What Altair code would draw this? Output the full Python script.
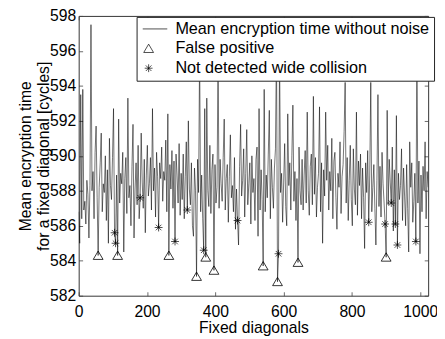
import altair as alt
import pandas as pd

FONT = "Liberation Sans"
L1 = "Mean encryption time without noise"
L2 = "False positive"
L3 = "Not detected wide collision"

# fixed diagonal index (every 3rd diagonal, 0..1023)
diag = list(range(0, 1024, 3))
# mean encryption time without noise [cycles]
mean_time = [
    586.8, 585.0, 593.5, 586.4, 593.8, 586.9, 587.4, 586.1, 588.6, 587.8, 585.3, 588.3, 597.5, 588.0, 589.1, 586.4, 590.2, 591.7, 587.6, 584.3,
    588.2, 589.6, 591.3, 586.8, 588.4, 587.9, 590.0, 586.3, 589.2, 585.0, 591.0, 588.3, 587.5, 589.9, 592.7, 585.6, 585.0, 588.9, 584.3, 592.1,
    587.3, 589.0, 588.4, 590.2, 584.5, 588.7, 589.9, 586.7, 593.3, 587.6, 588.3, 586.0, 589.4, 591.8, 585.3, 588.1, 589.6, 587.2, 590.6, 586.4,
    587.6, 591.3, 588.5, 587.0, 589.8, 585.6, 588.9, 590.6, 587.7, 588.4, 589.9, 586.9, 592.7, 588.0, 589.3, 586.5, 590.2, 588.8, 585.9, 589.6,
    588.7, 590.5, 587.4, 589.1, 588.6, 590.9, 586.8, 592.4, 584.3, 589.5, 588.1, 590.3, 587.0, 589.7, 585.1, 590.1, 588.9, 587.3, 590.7, 586.6,
    589.0, 587.5, 590.1, 586.4, 588.8, 590.8, 586.9, 592.0, 588.1, 587.2, 589.6, 586.0, 585.4, 589.3, 588.0, 583.1, 589.8, 587.9, 596.0, 586.8,
    588.9, 586.4, 584.6, 592.7, 584.2, 593.3, 588.0, 587.1, 590.6, 586.7, 589.2, 590.1, 583.45, 589.5, 587.3, 588.2, 596.0, 587.0, 589.8, 588.4,
    587.4, 589.9, 592.1, 586.9, 588.7, 589.5, 586.2, 588.8, 591.2, 587.6, 588.3, 586.8, 589.9, 585.8, 588.1, 586.3, 584.9, 589.4, 591.8, 587.7,
    588.6, 590.4, 586.5, 589.0, 591.5, 587.2, 588.4, 589.6, 586.1, 590.0, 587.9, 588.7, 586.3, 589.8, 590.5, 585.4, 592.7, 586.9, 589.2, 587.5,
    583.7, 593.8, 586.8, 588.9, 587.6, 590.1, 592.6, 586.4, 589.8, 588.2, 587.0, 589.3, 590.4, 596.5, 582.8, 584.4, 596.0, 587.9, 589.0, 586.2,
    588.5, 590.7, 587.1, 586.0, 592.4, 588.3, 589.6, 586.9, 590.0, 592.9, 587.4, 589.1, 586.3, 588.7, 583.9, 590.5, 588.0, 587.2, 589.8, 586.9,
    588.9, 590.3, 587.3, 592.5, 588.0, 586.6, 589.4, 590.1, 587.2, 593.4, 587.8, 589.9, 586.5, 588.2, 589.0, 592.8, 586.8, 589.6, 585.0, 589.2,
    587.7, 592.5, 588.6, 590.6, 586.9, 589.1, 588.0, 591.0, 586.4, 589.7, 590.2, 587.6, 585.8, 589.0, 588.2, 590.8, 586.7, 588.8, 589.5, 591.4,
    594.2, 587.3, 589.9, 586.3, 588.6, 590.6, 587.5, 586.0, 590.4, 588.1, 587.2, 592.5, 586.6, 589.7, 588.3, 590.1, 586.4, 589.3, 587.6, 584.7,
    589.6, 587.9, 590.3, 586.2, 588.9, 594.2, 586.8, 588.2, 589.5, 587.0, 584.9, 588.6, 593.5, 587.1, 589.4, 586.5, 590.2, 588.4, 587.3, 586.1,
    584.2, 592.6, 587.2, 589.8, 588.5, 587.3, 590.5, 585.7, 589.2, 586.1, 592.3, 584.9, 589.0, 587.5, 588.3, 590.4, 586.3, 589.3, 587.7, 586.0,
    589.5, 587.0, 584.5, 590.8, 588.2, 589.6, 586.2, 587.4, 589.0, 585.1, 596.0, 587.3, 589.7, 584.4, 588.9, 586.8, 589.4, 588.0, 590.8, 586.4,
    589.1, 588.2,
]

fp_x = [57, 114, 264, 345, 372, 396, 540, 582, 642, 900]
fp_y = [584.3, 584.3, 584.3, 583.1, 584.2, 583.45, 583.7, 582.8, 583.9, 584.2]

nd_x = [105, 108, 180, 234, 282, 318, 366, 465, 585, 849, 897, 915, 927, 933, 987]
nd_y = [585.6, 585.0, 587.6, 585.9, 585.1, 586.9, 584.6, 586.3, 584.4, 586.2, 586.1, 587.3, 586.1, 584.9, 585.1]

x_ticks = [0, 200, 400, 600, 800, 1000]
y_ticks = [582, 584, 586, 588, 590, 592, 594, 596, 598]

W, H = 356, 285

line_df = pd.DataFrame({"x": diag, "y": mean_time})
fp_df = pd.DataFrame({"x": fp_x, "y": fp_y, "s": L2})
nd_df = pd.DataFrame({"x": nd_x, "y": nd_y, "s": L3})

xs = alt.Scale(domain=[0, 1023], nice=False, zero=False)
ys = alt.Scale(domain=[582, 598], nice=False, zero=False)

shape_scale = alt.Scale(
    domain=[L1, L2, L3],
    range=[
        "M-1.2,0H3.8",
        "M0,-0.9L1,0.8L-1,0.8Z",
        "M0,-0.8V0.8M-0.8,0H0.8M-0.57,-0.57L0.57,0.57M-0.57,0.57L0.57,-0.57",
    ],
)

legend = alt.Legend(
    title=None,
    orient="none",
    legendX=59,
    legendY=1,
    padding=4,
    strokeColor="#222",
    fillColor="white",
    labelFont=FONT,
    labelFontSize=16.5,
    labelColor="black",
    labelOffset=19,
    symbolSize=100,
    symbolStrokeColor="black",
    symbolFillColor="white",
    symbolStrokeWidth=0.7,
    rowPadding=3,
    labelLimit=400,
)

label_axis_common = dict(
    ticks=False, domain=False, grid=False,
    labelFont=FONT, labelFontSize=16, labelColor="black",
    titleFont=FONT, titleFontSize=16, titleFontWeight="normal", titleColor="black",
)

tick_axis_common = dict(
    labels=False, domain=False, grid=False, ticks=True,
    tickSize=4, tickColor="#444", tickWidth=0.8, title="",
)

line = alt.Chart(line_df).mark_line(color="black", strokeWidth=0.55, clip=True).encode(
    x=alt.X("x:Q", scale=xs, axis=alt.Axis(
        orient="bottom", values=x_ticks, format="d", labelPadding=8, labelFlush=False,
        title="Fixed diagonals", titlePadding=0, **label_axis_common)),
    y=alt.Y("y:Q", scale=ys, axis=alt.Axis(
        orient="left", values=y_ticks, labelPadding=3,
        title=["Mean encryption time", "for a fixed diagonal [cycles]"],
        titleLineHeight=18, titlePadding=-2, **label_axis_common)),
)

fp = alt.Chart(fp_df).mark_point(filled=False, color="black", size=100, strokeWidth=0.8, opacity=1).encode(
    x=alt.X("x:Q", scale=xs, axis=alt.Axis(orient="top", offset=-H, values=x_ticks, **tick_axis_common)),
    y=alt.Y("y:Q", scale=ys, axis=alt.Axis(orient="right", offset=-W, values=y_ticks, **tick_axis_common)),
    shape=alt.Shape("s:N", scale=shape_scale, legend=legend),
)

nd = alt.Chart(nd_df).mark_point(filled=False, color="black", size=100, strokeWidth=0.7, opacity=1).encode(
    x=alt.X("x:Q", scale=xs, axis=alt.Axis(orient="bottom", offset=-H, values=x_ticks, **tick_axis_common)),
    y=alt.Y("y:Q", scale=ys, axis=alt.Axis(orient="left", offset=-W, values=y_ticks, **tick_axis_common)),
    shape=alt.Shape("s:N", scale=shape_scale, legend=legend),
)

chart = alt.layer(line, fp, nd).resolve_axis(x="independent", y="independent").properties(
    width=W,
    height=H,
    autosize=alt.AutoSizeParams(type="none"),
    padding={"left": 72, "top": 5, "right": 9, "bottom": 40},
    background="white",
).configure_view(stroke="#333", strokeWidth=1)

chart.save("out.html", embed_options={"renderer": "svg", "actions": False})
